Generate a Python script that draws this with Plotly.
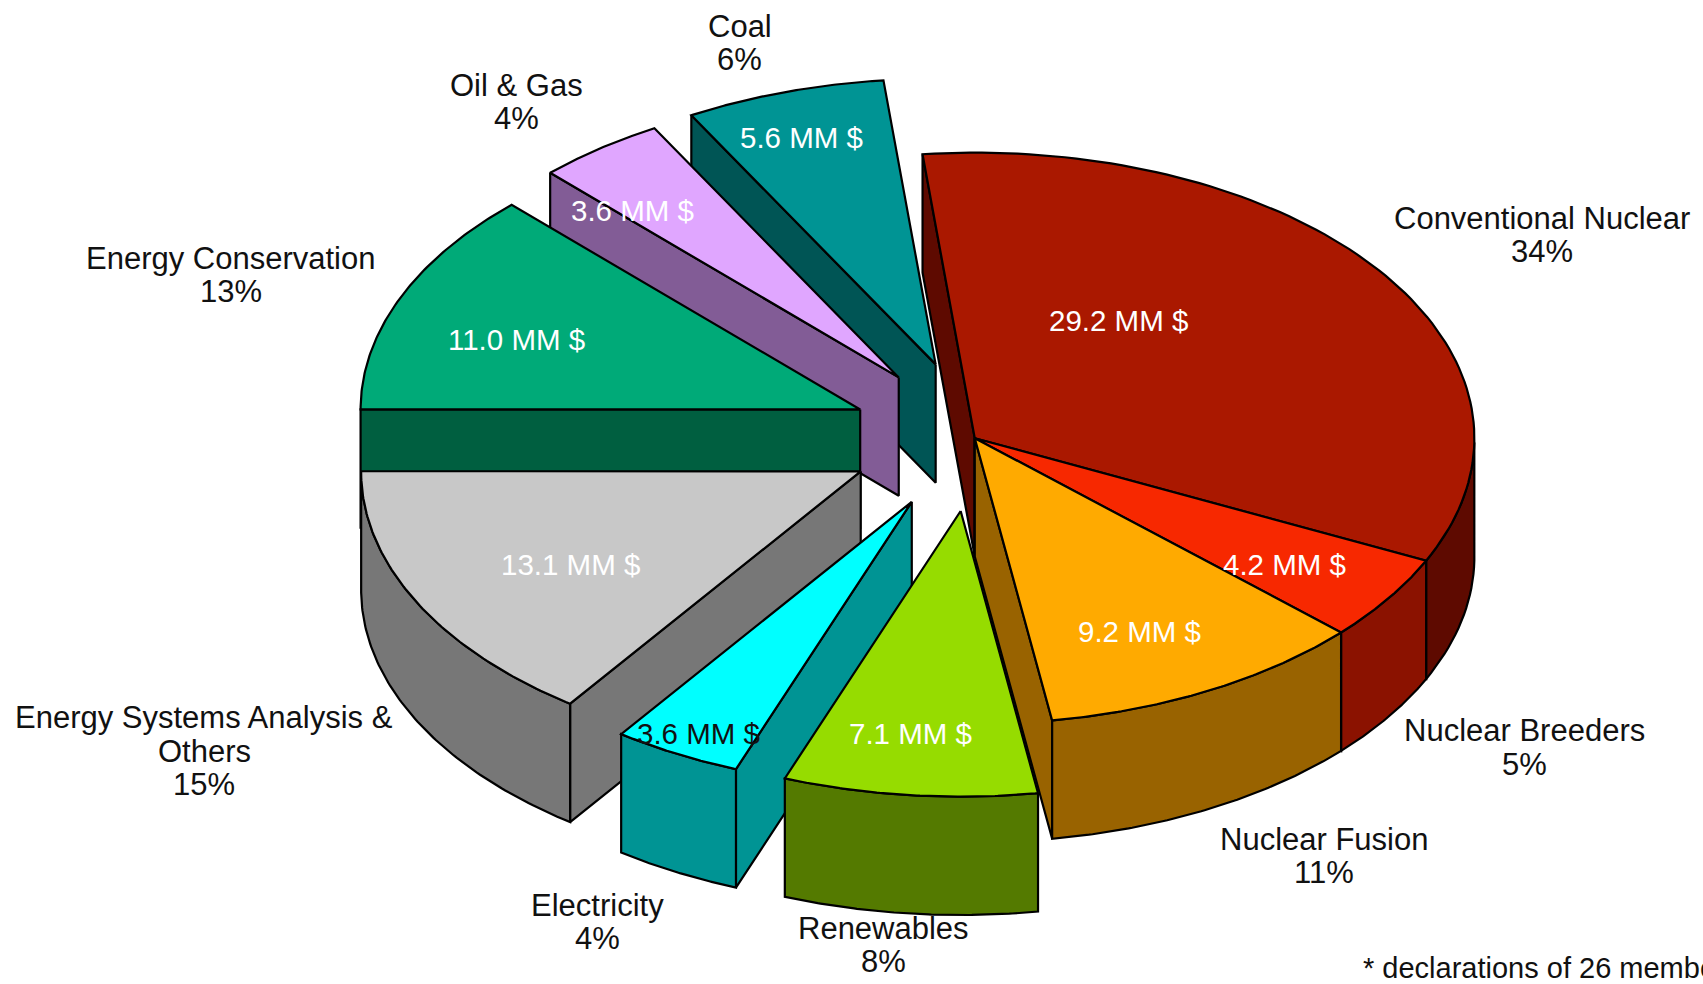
import numpy as np
import plotly.graph_objects as go

# ---- data ----
categories = ["Conventional Nuclear", "Nuclear Breeders", "Nuclear Fusion", "Renewables", "Electricity",
              "Energy Systems Analysis &<br>Others", "Energy Conservation", "Oil & Gas", "Coal"]
values_mm = [29.2, 4.2, 9.2, 7.1, 3.6, 13.1, 11.0, 3.6, 5.6]
percents = [34, 5, 11, 8, 4, 15, 13, 4, 6]
footnote = "* declarations of 26 member states"

# ---- styles and layout ----
W, H = 1703, 984
S = W / 1568
top_colors = ["#AA1800", "#F72800", "#FFAA00", "#96DC00", "#00FFFF", "#C8C8C8", "#00AA78", "#E0A6FF", "#009494"]
side_colors = ["#5E0A00", "#8B1200", "#996300", "#547A00", "#009494", "#777777", "#005F40", "#825C96", "#005555"]
value_colors = ["white"] * 4 + ["#111111"] + ["white"] * 4
CX, CY, RX, RY, DEPTH = 897.5 * S, 403.5 * S, 460 * S, 263 * S, 109 * S
START_DEG = 96.0
explode = [(0, 0), (0, 0), (0, 0), (-13, 67), (-58, 58.5), (-105, 30.5), (-105.5, -26.5), (-70, -56), (-36, -68)]
draw_order = [0, 8, 7, 6, 5, 4, 3, 1, 2]
label_first_line = [(1420, 201), (1404, 673), (1219, 773), (813, 855), (550, 834), (188, 661), (213, 238), (476, 79), (681, 24)]
LINE_STEP = 30.5
value_pos = [(1030, 295), (1183, 520), (1049, 581), (838, 675), (643, 675), (525, 520), (476, 313), (582, 194), (738, 127)]
FONT = "Liberation Sans"
LABEL_SIZE, VALUE_SIZE, NOTE_SIZE = 31, 29.5, 29

total = sum(values_mm)
fig = go.Figure()


def poly(xs, ys, color):
    xs, ys = list(xs), list(ys)
    fig.add_trace(go.Scatter(x=xs + xs[:1], y=ys + ys[:1], mode="lines", fill="toself", fillcolor=color,
                             line=dict(color="black", width=2.2), hoverinfo="skip", showlegend=False))


# angular extent of every slice, clockwise from the start angle
a1s, a2s, angle = [], [], START_DEG
for v in values_mm:
    a1s.append(angle)
    angle -= v / total * 360
    a2s.append(angle)

for i in draw_order:
    a1, a2 = np.radians(a1s[i]), np.radians(a2s[i])
    ax, ay = CX + explode[i][0] * S, CY + explode[i][1] * S
    t = np.linspace(a1, a2, 90)
    px, py = ax + RX * np.cos(t), ay - RY * np.sin(t)
    # radial wall on the side that faces the viewer
    if np.cos(a1) < 0:
        ex, ey = ax + RX * np.cos(a1), ay - RY * np.sin(a1)
        poly([ax, ex, ex, ax], [ay, ey, ey + DEPTH, ay + DEPTH], side_colors[i])
    if np.cos(a2) > 0:
        ex, ey = ax + RX * np.cos(a2), ay - RY * np.sin(a2)
        poly([ax, ex, ex, ax], [ay, ey, ey + DEPTH, ay + DEPTH], side_colors[i])
    # curved outer wall on the front half of the ellipse
    front = np.sin(t) <= 0
    if front.sum() > 1:
        fx, fy = px[front], py[front]
        poly(np.r_[fx, fx[::-1]], np.r_[fy, fy[::-1] + DEPTH], side_colors[i])
    # top face
    poly(np.r_[ax, px], np.r_[ay, py], top_colors[i])

anns = []
for i, name in enumerate(categories):
    lines = name.split("<br>") + [f"{percents[i]}%"]
    for k, line in enumerate(lines):
        anns.append(dict(x=label_first_line[i][0] * S, y=(label_first_line[i][1] + k * LINE_STEP) * S,
                         xref="x", yref="y", showarrow=False, text=line,
                         font=dict(family=FONT, size=LABEL_SIZE, color="#111111")))
    anns.append(dict(x=value_pos[i][0] * S, y=value_pos[i][1] * S, xref="x", yref="y", showarrow=False,
                     text=f"{values_mm[i]:.1f} MM $", font=dict(family=FONT, size=VALUE_SIZE, color=value_colors[i])))
anns.append(dict(x=1253 * S, y=891 * S, xref="x", yref="y", xanchor="left", showarrow=False, text=footnote,
                 font=dict(family=FONT, size=NOTE_SIZE, color="#111111")))

fig.update_layout(width=W, height=H, margin=dict(l=0, r=0, t=0, b=0), paper_bgcolor="white", plot_bgcolor="white",
                  xaxis=dict(range=[0, W], visible=False, fixedrange=True),
                  yaxis=dict(range=[H, 0], visible=False, fixedrange=True),
                  annotations=anns, showlegend=False)
fig.write_html("out.html", config=dict(displayModeBar=False),
               post_script="document.body.style.margin='0';document.body.style.overflow='hidden';")
